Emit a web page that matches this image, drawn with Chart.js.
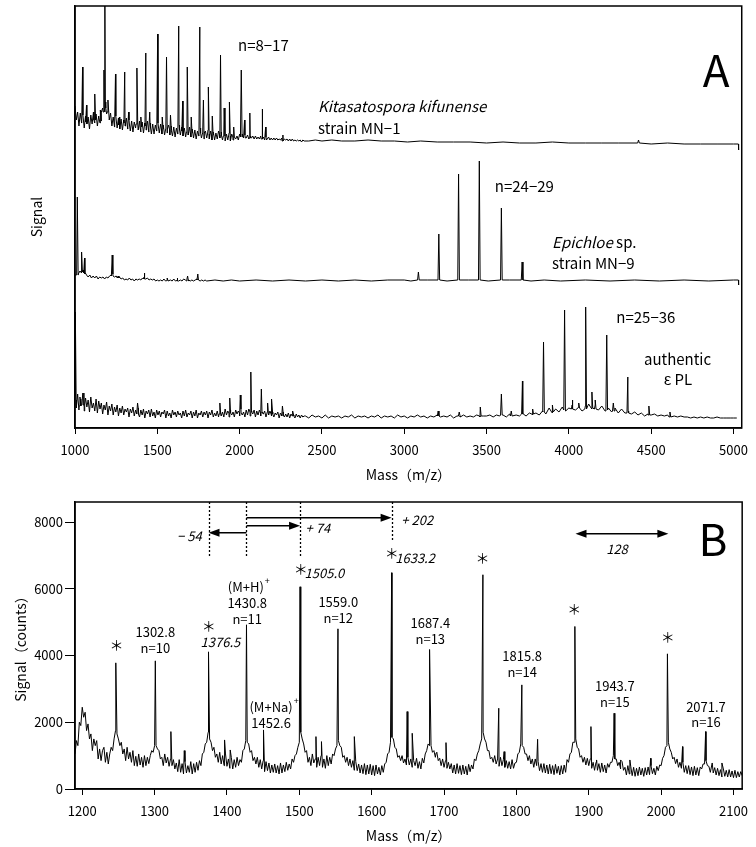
<!DOCTYPE html>
<html>
<head>
<meta charset="utf-8">
<script src="https://cdn.jsdelivr.net/npm/chart.js@4.4.1/dist/chart.umd.min.js"></script>
<style>
  body { margin: 0; background: #fff; }
  .wrap { position: absolute; left: 0; width: 756px; }
  #wrapA { top: 0; height: 490px; }
  #wrapB { top: 490px; height: 357px; }
</style>
</head>
<body>
<div class="wrap" id="wrapA"><canvas id="chartA" width="756" height="490"></canvas></div>
<div class="wrap" id="wrapB"><canvas id="chartB" width="756" height="357"></canvas></div>
<script>
// ---------- tick labels ----------
const massTicksA = [1000, 1500, 2000, 2500, 3000, 3500, 4000, 4500, 5000];
const massTicksB = [1200, 1300, 1400, 1500, 1600, 1700, 1800, 1900, 2000, 2100];
const signalTicksB = [0, 2000, 4000, 6000, 8000];

// ---------- panel A: three stacked spectra (arbitrary signal units) ----------
const offsetKita = 280, offsetEpi = 144, offsetPL = 8;

// Kitasatospora kifunense MN-1 : baseline noise 1000..2392, step 8
const kitaNoise = [
  42,28,36,22,35,25,33,20,32,24,
  31,19,33,24,36,25,34,22,32,25,
  36,40,42,46,34,42,28,35,22,31,
  21,32,20,30,19,29,18,28,22,30,
  19,28,17,27,16,26,20,29,18,27,
  16,26,15,25,18,27,16,25,14,24,
  14,23,17,25,15,24,14,23,13,22,
  15,23,13,22,12,21,11,20,14,23,
  13,21,12,20,11,19,13,21,11,19,
  10,18,9,17,12,20,10,18,9,17,
  10,18,9,17,8,16,8,15,9,17,
  10,16,8,15,7,14,8,15,7,14,
  8,11,9,12,8,14,11,14,10,13,
  10,13,9,12,10,12,9,12,9,11,
  9,12,9,11,8,11,9,11,8,10,
  8,10,8,10,8,9,8,10,7,9,
  8,9,7,9,7,9,7,8,7,8,
  7,8,6,8,7
];
const kitaTail = [[2420,7],[2460,8],[2500,7],[2560,8],[2620,7],[2700,7],[2780,8],[2860,7],[2940,7],
  [3020,6],[3100,7],[3200,6],[3300,6],[3400,6],[3500,5],[3600,6],[3700,5],[3800,5],[3900,6],[4000,5],
  [4100,5],[4200,5],[4300,5],[4500,4],[4600,5],[4700,4],[4800,4],[4900,4],[5000,4],[5030,4],[5031,-2]];
// [mass, apex, foot]
const kitaPeaks = [[1046,81,28],[1070,43,26],[1120,54,28],[1154,38,27],[1176,78,36],[1182,145,40],[1200,48,36],
  [1246,74,27],[1270,31,23],[1302,76,25],[1326,36,23],[1376,80,24],[1400,31,21],[1430,95,22],[1454,36,20],
  [1502,114,21],[1530,31,19],[1556,91,19],[1580,33,18],[1630,122,18],[1654,47,17],[1682,81,16],[1706,31,15],
  [1758,121,15],[1780,48,15],[1810,61,14],[1834,32,13],[1884,93,13],[1906,40,12],[1938,46,12],[1964,21,11],
  [2010,78,11],[2030,28,10],[2062,35,10],[2136,39,9],[2158,21,8],[2263,13,7],[4423,8,5]];

// Epichloe sp. MN-9 : baseline 1000..1800, step 10
const epiNoise = [
  9,11,10,13,11,14,10,9,7,9,
  6,8,6,8,5,7,6,7,5,7,
  6,8,9,10,7,8,6,7,5,6,
  4,5,4,6,4,5,3,5,4,5,
  4,6,7,5,6,4,5,4,5,3,
  4,3,4,3,5,3,4,3,4,3,
  5,3,4,3,4,3,5,4,5,4,
  3,4,3,4,5,4,3,4,3,4,
  3
];
const epiTail = [[1850,4],[1900,3],[1950,4],[2000,3],[2100,4],[2200,3],[2300,4],[2400,3],[2500,4],[2600,3],
  [2700,4],[2800,3],[2900,4],[3000,4],[3040,3],[3140,4],[3260,3],[3390,4],[3510,3],[3640,4],[3770,3],
  [3850,4],[3950,3],[4100,4],[4250,3],[4400,4],[4550,3],[4700,4],[4850,3],[5000,4],[5030,4],[5031,-1]];
const epiPeaks = [[1014,87,9],[1040,32,12],[1058,26,11],[1226,29,8],[1262,8,6],[1420,11,5],[1560,6,3],
  [1620,6,3],[1684,8,3],[1746,10,4],[3086,12,4],[3210,50,4],[3330,110,4],[3456,123,4],[3590,76,4],[3716,22,4]];

// authentic epsilon-PL : baseline 1000..2392 step 8, then 2400..5020 step 20
const plNoise = [
  24,12,26,10,21,15,27,9,22,13,
  20,8,23,12,17,9,21,7,19,11,
  17,6,15,10,18,5,14,9,16,5,
  13,8,15,4,12,7,14,5,11,8,
  12,3,11,7,13,4,10,6,12,3,
  10,5,11,2,9,6,10,3,11,4,
  8,2,10,5,9,3,8,6,10,2,
  9,4,7,2,10,5,8,3,9,5,
  7,2,9,4,10,3,7,5,9,2,
  8,4,10,2,7,5,9,3,8,5,
  9,2,8,5,10,3,7,4,9,3,
  10,4,8,3,11,5,9,3,10,5,
  8,3,10,6,9,4,11,5,8,3,
  10,5,11,4,9,6,10,3,9,5,
  10,4,8,6,9,3,8,5,9,4,
  8,3,7,5,8,2,7,4,8,3,
  6,3,7,2,6,4,5,2,6,3,
  5,2,5,3,4
];
const plTailNoise = [
  4,2,5,3,4,2,5,2,4,3,
  4,2,4,3,5,2,4,3,4,2,
  4,3,5,2,4,3,4,2,5,3,
  4,2,4,3,5,3,4,2,4,3,
  5,3,4,3,5,2,4,3,5,3,
  4,3,5,3,4,4,5,3,5,4,
  5,3,6,4,5,4,6,4,7,5,
  7,5,9,6,12,7,11,8,13,9,
  12,15,10,13,9,14,16,11,15,10,
  14,9,12,8,12,7,11,7,9,6,
  8,5,7,4,6,5,6,4,5,4,
  5,3,4,3,4,3,3,2,3,2,
  3,2,3,2,2,3,2,2,2,2,
  2,2
];
const plPeaks = [[1002,108,20],[1030,23,14],[1054,27,15],[1380,17,6],[1880,17,6],[1940,22,7],[2004,25,7],
  [2068,48,8],[2132,31,7],[2170,17,6],[2196,21,6],[2260,14,5],[2324,9,4],[3206,9,4],[3334,8,4],[3462,13,4],
  [3590,26,5],[3650,9,4],[3718,39,6],[3780,11,6],[3846,78,8],[3900,15,8],[3974,110,10],[4020,20,11],
  [4060,17,12],[4102,113,11],[4140,28,12],[4160,20,11],[4230,85,10],[4270,17,9],[4358,43,7],[4486,14,5],[4614,8,3]];

// ---------- panel B: signal (counts), baseline 1190..2112 step 2 ----------
const specBNoise = [
  1050,1450,1300,2000,1900,2450,2150,2300,1750,1950,1500,1650,1150,1500,1300,1450,900,1200,850,1150,
  1250,800,1100,750,1050,1250,1150,1500,1750,1650,1500,1300,1400,1050,1200,850,1250,900,1100,800,
  1150,700,980,680,1050,720,950,650,1000,700,950,760,1000,1150,1100,1300,1300,1200,1150,900,
  950,700,1050,780,950,680,900,700,880,600,780,520,880,500,760,450,820,480,700,500,
  820,450,760,500,800,560,850,700,1050,1100,1350,1400,1700,1500,1400,1150,1250,950,1050,800,
  1100,750,1000,700,1050,680,900,620,950,600,880,650,950,700,880,800,1150,1200,1450,1400,
  1350,1100,1150,850,950,750,950,650,880,600,850,520,820,550,780,480,720,500,750,480,
  700,450,780,480,720,520,800,560,750,600,900,800,1000,1050,1250,1400,1700,1500,1350,1100,
  1150,800,950,700,1050,780,900,650,950,700,1000,650,900,620,1000,700,950,750,1050,1000,
  1200,1300,1450,1300,1250,950,1000,800,950,700,900,650,850,560,820,550,750,480,720,460,
  760,430,720,450,740,420,700,400,720,450,650,420,700,500,750,800,1050,1100,1400,1550,
  1500,1250,1200,950,1000,850,1000,780,900,720,950,720,900,650,850,700,920,620,820,600,
  920,780,1050,1150,1350,1300,1300,1100,1150,950,1100,850,920,700,900,650,850,620,800,600,
  760,480,720,450,760,470,700,430,720,450,680,420,740,520,720,600,900,850,1050,1150,
  1350,1500,1700,1500,1400,1150,1150,900,950,800,1000,750,900,680,950,700,880,650,850,620,
  820,600,880,620,780,800,1050,1100,1350,1300,1250,1050,1050,850,1000,750,900,650,900,700,
  820,550,760,500,760,480,720,450,740,460,700,430,740,470,680,420,700,450,720,500,
  880,800,1050,1100,1400,1400,1500,1250,1200,950,1000,800,950,720,920,700,900,620,800,560,
  800,560,760,500,780,520,720,480,760,650,800,800,1000,900,900,700,800,600,820,560,
  650,420,700,450,680,400,650,380,620,400,660,420,620,380,640,420,660,430,700,460,
  620,420,680,550,720,700,920,1000,1250,1300,1400,1200,1100,900,950,760,900,650,800,620,
  800,500,700,460,700,430,660,400,680,420,640,400,660,600,750,750,850,700,680,500,
  720,480,640,420,620,400,580,360,600,380,560,360,580,360,540,340,560,340,520,360,
  520,400
];
// [mass, counts]
const specBPeaks = [[1246.4,3780],[1301,3840],[1322.5,1720],[1341,1150],[1374.5,4110],[1396.7,1470],
  [1404.5,1170],[1427,4920],[1450.5,1770],[1501,6060],[1523,1570],[1530.6,1420],[1553.4,4800],[1576,1570],
  [1627.6,6480],[1649,2320],[1656,1670],[1680,4180],[1689,1080],[1702.7,1390],[1753.7,6420],[1775.6,2420],
  [1783,1120],[1807.5,3120],[1829.3,1490],[1880.8,4870],[1903,1870],[1910.8,870],[1935,2270],[1944,870],
  [1956.8,870],[1985.5,920],[2008.7,4050],[2029.6,1270],[2061.5,1720],[2070.6,780],[2084,780]];

// peaks used for the shift arrows (- 54, + 74, + 202)
const shiftBase = 1427, shiftTargets = [1374.5, 1501, 1627.6];

// ---------- helpers ----------
const fontFamily = "'Noto Sans CJK JP', 'Noto Sans', sans-serif";
Chart.defaults.font.family = fontFamily;
Chart.defaults.color = '#000';

function stepPoints(start, step, values) {
  return values.map((v, i) => ({ x: start + i * step, y: v }));
}
function buildA(noise, noiseStep, tailPts, peaks, offset) {
  let pts = stepPoints(1000, noiseStep, noise).concat(tailPts.map(p => ({ x: p[0], y: p[1] })));
  peaks.forEach(([m, top, foot]) => {
    pts.push({ x: m - 5, y: foot }, { x: m, y: top }, { x: m + 5, y: foot });
  });
  pts.sort((a, b) => a.x - b.x);
  return pts.map(p => ({ x: p.x, y: p.y + offset }));
}
function fontStr(italic, size) {
  return (italic ? 'italic ' : '') + size + 'px ' + fontFamily;
}
function drawNote(chart, n) {
  const ctx = chart.ctx;
  const px = chart.scales.x.getPixelForValue(n.x);
  const py = chart.scales.y.getPixelForValue(n.y);
  const size = n.size || 13;
  const parts = n.parts || [[n.text, !!n.italic]];
  ctx.save();
  ctx.fillStyle = '#000';
  ctx.textBaseline = 'middle';
  ctx.textAlign = 'left';
  const widths = parts.map(p => { ctx.font = fontStr(p[1], size); return ctx.measureText(p[0]).width; });
  const total = widths.reduce((a, b) => a + b, 0);
  let sx = n.align === 'left' ? px : n.align === 'right' ? px - total : px - total / 2;
  parts.forEach((p, i) => {
    ctx.font = fontStr(p[1], size);
    ctx.fillText(p[0], sx, py);
    sx += widths[i];
  });
  if (n.sup) {
    ctx.font = fontStr(false, Math.round(size * 0.7));
    ctx.fillText(n.sup, sx + 1, py - size * 0.45);
  }
  ctx.restore();
}
function arrowHead(ctx, x, y, dir) {
  ctx.beginPath();
  ctx.moveTo(x, y);
  ctx.lineTo(x - dir * 11, y - 4);
  ctx.lineTo(x - dir * 11, y + 4);
  ctx.closePath();
  ctx.fill();
}
const framePlugin = {
  id: 'frame',
  afterDraw(chart) {
    const { ctx, chartArea: a } = chart;
    ctx.save();
    ctx.strokeStyle = '#000';
    ctx.lineWidth = 1.5;
    ctx.strokeRect(a.left, a.top, a.right - a.left, a.bottom - a.top);
    ctx.restore();
  }
};

const lineStyle = { borderColor: '#000', borderWidth: 1, pointRadius: 0, tension: 0, fill: false };

function xAxis(min, max, ticks, height, titlePad) {
  return {
    type: 'linear', min: min, max: max,
    afterBuildTicks: s => { s.ticks = ticks.map(v => ({ value: v })); },
    afterFit: s => { s.height = height; },
    grid: { drawOnChartArea: false, drawTicks: true, tickLength: 6, color: '#000' },
    border: { color: '#000', width: 1.5 },
    ticks: { font: { size: 13 }, padding: 8, maxRotation: 0, callback: v => String(v) },
    title: { display: true, text: 'Mass（m/z）', font: { size: 14 }, padding: { top: 0, bottom: titlePad } }
  };
}

// ---------- panel A ----------
const notesA = [
  { text: 'n=8−17', x: 1990, y: 383, align: 'left', size: 15 },
  { parts: [['Kitasatospora kifunense', true]], x: 2476, y: 322, align: 'left', size: 15 },
  { text: 'strain MN−1', x: 2476, y: 300, align: 'left', size: 15 },
  { text: 'n=24−29', x: 3550, y: 242, align: 'left', size: 15 },
  { parts: [['Epichloe', true], [' sp.', false]], x: 3898, y: 186, align: 'left', size: 15 },
  { text: 'strain MN−9', x: 3898, y: 165, align: 'left', size: 15 },
  { text: 'n=25−36', x: 4288, y: 111, align: 'left', size: 15 },
  { text: 'authentic', x: 4456, y: 69, align: 'left', size: 15 },
  { text: 'ε PL', x: 4576, y: 49, align: 'left', size: 15 },
  { text: 'A', x: 4894, y: 358, size: 44 }
];

new Chart(document.getElementById('chartA'), {
  type: 'line',
  data: {
    datasets: [
      Object.assign({ label: 'Kitasatospora kifunense MN-1', data: buildA(kitaNoise, 8, kitaTail, kitaPeaks, offsetKita) }, lineStyle),
      Object.assign({ label: 'Epichloe sp. MN-9', data: buildA(epiNoise, 10, epiTail, epiPeaks, offsetEpi) }, lineStyle),
      Object.assign({ label: 'authentic ePL', data: buildA(plNoise, 8, stepPoints(2400, 20, plTailNoise).map(p => [p.x, p.y]), plPeaks, offsetPL) }, lineStyle)
    ]
  },
  options: {
    responsive: false,
    animation: false,
    events: [],
    parsing: false,
    layout: { padding: { top: 6, right: 6, left: 0, bottom: 0 } },
    plugins: { legend: { display: false }, tooltip: { enabled: false } },
    scales: {
      x: xAxis(1000, 5050, massTicksA, 62, 7),
      y: {
        min: 0, max: 422,
        afterFit: s => { s.width = 75; },
        grid: { display: false },
        border: { color: '#000', width: 1.5 },
        ticks: { display: false },
        title: { display: true, text: 'Signal', font: { size: 14 }, padding: { top: 28, bottom: 0 } }
      }
    }
  },
  plugins: [framePlugin, {
    id: 'notesA',
    afterDraw(chart) { notesA.forEach(n => drawNote(chart, n)); }
  }]
});

// ---------- panel B ----------
const notesB = [
  { text: '＊', x: 1247.4, y: 4320, size: 14 },
  { text: '1302.8', x: 1301, y: 4690 }, { text: 'n=10', x: 1301, y: 4230 },
  { text: '＊', x: 1375, y: 4890, size: 14 },
  { text: '1376.5', x: 1391, y: 4390, italic: true },
  { text: '(M+H)', sup: '+', x: 1426, y: 6060 },
  { text: '1430.8', x: 1428, y: 5580 }, { text: 'n=11', x: 1428, y: 5100 },
  { text: '(M+Na)', sup: '+', x: 1461, y: 2470 },
  { text: '1452.6', x: 1461, y: 1980 },
  { text: '＊', x: 1502, y: 6600, size: 14 },
  { text: '1505.0', x: 1534.7, y: 6480, italic: true },
  { text: '1559.0', x: 1553.8, y: 5610 }, { text: 'n=12', x: 1553.8, y: 5130 },
  { text: '＊', x: 1627.6, y: 7080, size: 14 },
  { text: '1633.2', x: 1660, y: 6930, italic: true },
  { text: '1687.4', x: 1681, y: 4980 }, { text: 'n=13', x: 1681, y: 4500 },
  { text: '＊', x: 1753, y: 6930, size: 14 },
  { text: '1815.8', x: 1808, y: 3990 }, { text: 'n=14', x: 1808, y: 3510 },
  { text: '＊', x: 1880, y: 5400, size: 14 },
  { text: '1943.7', x: 1936, y: 3090 }, { text: 'n=15', x: 1936, y: 2610 },
  { text: '＊', x: 2009, y: 4560, size: 14 },
  { text: '2071.7', x: 2062, y: 2460 }, { text: 'n=16', x: 2062, y: 2010 },
  { text: 'B', x: 2071.6, y: 7470, size: 44 },
  { text: '128', x: 1939, y: 7200, italic: true },
  { text: '+ 202', x: 1641, y: 8070, italic: true, align: 'left' },
  { text: '+ 74', x: 1508.7, y: 7830, italic: true, align: 'left' },
  { text: '− 54', x: 1365, y: 7590, italic: true, align: 'right' }
];
// dotted guides: [mass, lower end in counts]
const guidesB = [[shiftTargets[0], 6950], [shiftBase, 6950], [shiftTargets[1], 6950], [shiftTargets[2], 7420]];
const arrowsB = [
  { from: shiftBase, to: shiftTargets[2], y: 8130, both: false },
  { from: shiftBase, to: shiftTargets[1], y: 7890, both: false },
  { from: shiftBase, to: shiftTargets[0], y: 7680, both: false },
  { from: 1881.7, to: 2010, y: 7650, both: true }
];

const specB = stepPoints(1190, 2, specBNoise)
  .concat(specBPeaks.map(p => ({ x: p[0], y: p[1] })))
  .sort((a, b) => a.x - b.x);

new Chart(document.getElementById('chartB'), {
  type: 'line',
  data: { datasets: [Object.assign({ label: 'Signal (counts)', data: specB }, lineStyle)] },
  options: {
    responsive: false,
    animation: false,
    events: [],
    parsing: false,
    layout: { padding: { top: 12, right: 6, left: 0, bottom: 0 } },
    plugins: { legend: { display: false }, tooltip: { enabled: false } },
    scales: {
      x: xAxis(1190, 2112, massTicksB, 58, 3),
      y: {
        min: 0, max: 8600,
        afterBuildTicks: s => { s.ticks = signalTicksB.map(v => ({ value: v })); },
        afterFit: s => { s.width = 75; },
        grid: { drawOnChartArea: false, drawTicks: true, tickLength: 10, color: '#000' },
        border: { color: '#000', width: 1.5 },
        ticks: { font: { size: 13 }, padding: 2, callback: v => String(v) },
        title: { display: true, text: 'Signal（counts）', font: { size: 14 }, padding: { top: 12, bottom: 0 } }
      }
    }
  },
  plugins: [framePlugin, {
    id: 'notesB',
    afterDraw(chart) {
      const ctx = chart.ctx, xs = chart.scales.x, ys = chart.scales.y;
      ctx.save();
      ctx.strokeStyle = '#000';
      ctx.fillStyle = '#000';
      ctx.lineWidth = 1.3;
      ctx.setLineDash([2, 2]);
      guidesB.forEach(([m, low]) => {
        const x = Math.round(xs.getPixelForValue(m)) + 0.5;
        ctx.beginPath();
        ctx.moveTo(x, chart.chartArea.top);
        ctx.lineTo(x, ys.getPixelForValue(low));
        ctx.stroke();
      });
      ctx.setLineDash([]);
      ctx.lineWidth = 1.5;
      arrowsB.forEach(a => {
        const x1 = xs.getPixelForValue(a.from), x2 = xs.getPixelForValue(a.to), y = ys.getPixelForValue(a.y);
        const dir = x2 > x1 ? 1 : -1;
        ctx.beginPath();
        ctx.moveTo(x1 + (a.both ? dir * 6 : 0), y);
        ctx.lineTo(x2 - dir * 6, y);
        ctx.stroke();
        arrowHead(ctx, x2, y, dir);
        if (a.both) arrowHead(ctx, x1, y, -dir);
      });
      ctx.restore();
      notesB.forEach(n => drawNote(chart, n));
    }
  }]
});
</script>
</body>
</html>
